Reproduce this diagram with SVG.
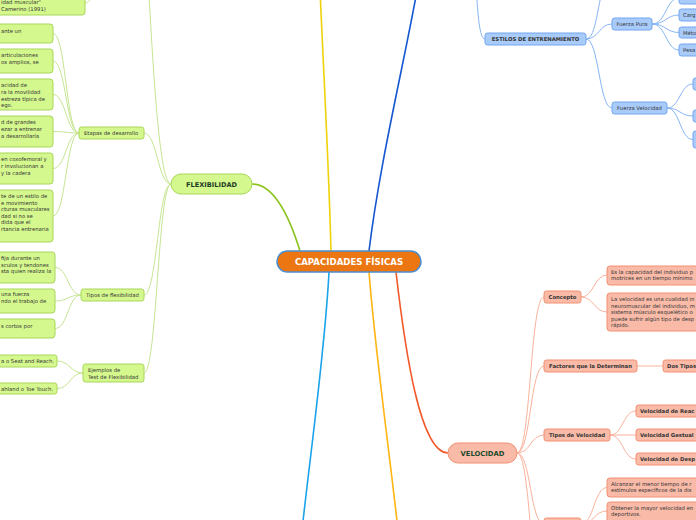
<svg xmlns="http://www.w3.org/2000/svg" width="696" height="520" viewBox="0 0 696 520">
<style>
.t{font-family:"DejaVu Sans","Liberation Sans",sans-serif;font-size:5.3px;fill:#333}
.b{font-weight:bold}
.ng{fill:#d5f88e;stroke:#a8d65a;stroke-width:1}
.nb{fill:#a9cbfa;stroke:#72a6ef;stroke-width:1}
.nr{fill:#f9bba8;stroke:#f29072;stroke-width:1}
.cg{fill:none;stroke:#c6e592;stroke-width:1}
.cb{fill:none;stroke:#86b5f3;stroke-width:1}
.cr{fill:none;stroke:#f9b29c;stroke-width:1}
</style>
<rect width="696" height="520" fill="#fff"/>
<g id="connectors">
<path d="M331,251 C329,170 324,80 320,-10" fill="none" stroke="#f0d20a" stroke-width="1.6"/>
<path d="M369,251 C380,160 405,60 418,-15" fill="none" stroke="#1656d0" stroke-width="1.6"/>
<path d="M329,272 C325,350 312,440 302,530" fill="none" stroke="#1aa3ea" stroke-width="1.6"/>
<path d="M369,272 C375,350 388,440 398,530" fill="none" stroke="#ffb411" stroke-width="1.6"/>
<path d="M396,272 C405,350 420,453 448,453" fill="none" stroke="#f2592a" stroke-width="1.6"/>
<path d="M300,251 C288,212 272,184 252,184" fill="none" stroke="#8cc31d" stroke-width="1.6"/>
<path class="cg" d="M171,184 C158,184 152,40 148,-20"/>
<path class="cg" d="M171,184 C158,184 157,133 144,133"/>
<path class="cg" d="M171,184 C158,184 157,295 144,295"/>
<path class="cg" d="M171,184 C158,184 157,373 144,373"/>
<path class="cg" d="M85,3 C91,3 92,-6 98,-10"/>
<path class="cg" d="M79,133 C66,133 66,33.5 53,33.5"/>
<path class="cg" d="M79,133 C66,133 66,61 53,61"/>
<path class="cg" d="M79,133 C66,133 66,94.5 53,94.5"/>
<path class="cg" d="M79,133 C66,133 66,131.5 53,131.5"/>
<path class="cg" d="M79,133 C66,133 66,168.5 53,168.5"/>
<path class="cg" d="M79,133 C66,133 66,216 53,216"/>
<path class="cg" d="M81,295 C68,295 68,267.5 55,267.5"/>
<path class="cg" d="M81,295 C68,295 68,301 55,301"/>
<path class="cg" d="M81,295 C68,295 68,328.5 55,328.5"/>
<path class="cg" d="M83,373 C70,373 70,361 57,361"/>
<path class="cg" d="M83,373 C70,373 70,388.5 57,388.5"/>
<path class="cb" d="M470,-60 C478,-60 474,39 485,39"/>
<path class="cb" d="M586,39 C597,39 597,0 606,-20"/>
<path class="cb" d="M586,39 C599,39 599,24 612,24"/>
<path class="cb" d="M586,39 C599,39 599,108 612,108"/>
<path class="cb" d="M652,24 C666,24 666,-2 679,-2"/>
<path class="cb" d="M652,24 C666,24 666,15 679,15"/>
<path class="cb" d="M652,24 C666,24 666,32.5 679,32.5"/>
<path class="cb" d="M652,24 C666,24 666,50 679,50"/>
<path class="cb" d="M667,108 C680,108 680,84 693,84"/>
<path class="cb" d="M667,108 C680,108 680,116 693,116"/>
<path class="cb" d="M667,108 C680,108 680,139.5 693,139.5"/>
<path class="cr" d="M517,453 C531,453 530,297 544,297"/>
<path class="cr" d="M517,453 C531,453 530,366 544,366"/>
<path class="cr" d="M517,453 C531,453 530,435 544,435"/>
<path class="cr" d="M517,453 C531,453 530,524 544,524"/>
<path class="cr" d="M517,453 C531,453 530,600 544,600"/>
<path class="cr" d="M581,297 C594,297 594,275 607,275"/>
<path class="cr" d="M581,297 C594,297 594,312 607,312"/>
<path class="cr" d="M637,366 L663,366"/>
<path class="cr" d="M610,435 C623,435 623,411 636,411"/>
<path class="cr" d="M610,435 L636,435"/>
<path class="cr" d="M610,435 C623,435 623,459 636,459"/>
<path class="cr" d="M581,524 C594,524 594,487.5 607,487.5"/>
<path class="cr" d="M581,524 C594,524 594,511 607,511"/>
</g>
<g id="center">
<rect x="277" y="251" width="144" height="21" rx="10.5" fill="#ec7611" stroke="#4b8fcf" stroke-width="1.5"/>
<text x="349" y="264.8" text-anchor="middle" font-family="DejaVu Sans, sans-serif" font-weight="bold" font-size="8.6" fill="#fff">CAPACIDADES FÍSICAS</text>
</g>
<g id="flexibilidad">
<rect class="ng" x="171" y="174" width="81" height="20" rx="10" stroke-width="1.2"/>
<text x="211.5" y="186.5" text-anchor="middle" font-family="DejaVu Sans, sans-serif" font-weight="bold" font-size="6.6" fill="#1c3a22">FLEXIBILIDAD</text>
</g>
<g id="flex-top">
<rect class="ng" x="-10" y="-10" width="95" height="25" rx="3"/>
<text class="t" x="1" y="4">idad muscular"</text>
<text class="t" x="1" y="11">Camerino (1991)</text>
</g>
<g id="etapas">
<rect class="ng" x="79" y="127" width="65" height="12" rx="2.5"/>
<text class="t" x="84" y="135">Etapas de desarrollo</text>
</g>
<g id="et1"><rect class="ng" x="-10" y="24" width="63" height="19" rx="3"/><text class="t" x="1" y="33">ante un</text></g>
<g id="et2"><rect class="ng" x="-10" y="49" width="63" height="24" rx="3"/><text class="t" x="1" y="57">articulaciones</text><text class="t" x="1" y="64">os amplios, se</text></g>
<g id="et3"><rect class="ng" x="-10" y="79" width="63" height="31" rx="3"/><text class="t" x="1" y="87">acidad de</text><text class="t" x="1" y="94">ra la movilidad</text><text class="t" x="1" y="101">estreza típica de</text><text class="t" x="1" y="107">ego.</text></g>
<g id="et4"><rect class="ng" x="-10" y="116" width="63" height="31" rx="3"/><text class="t" x="1" y="124">d de grandes</text><text class="t" x="1" y="131">ezar a entrenar</text><text class="t" x="1" y="137.5">a desarrollaría</text></g>
<g id="et5"><rect class="ng" x="-10" y="153" width="63" height="31" rx="3"/><text class="t" x="1" y="161">en coxofemoral y</text><text class="t" x="1" y="168">r involucionan a</text><text class="t" x="1" y="174.5">y la cadera</text></g>
<g id="et6"><rect class="ng" x="-10" y="190" width="63" height="52" rx="3"/><text class="t" x="1" y="198">te de un estilo de</text><text class="t" x="1" y="204.5">e movimiento</text><text class="t" x="1" y="211">cturas musculares</text><text class="t" x="1" y="217.5">dad si no se</text><text class="t" x="1" y="224">dida que el</text><text class="t" x="1" y="230.5">rtancia entrenaria</text></g>
<g id="tipos-flex">
<rect class="ng" x="81" y="289" width="63" height="12" rx="2.5"/>
<text class="t" x="86" y="297">Tipos de flexibilidad</text>
</g>
<g id="tf1"><rect class="ng" x="-10" y="252" width="65" height="31" rx="3"/><text class="t" x="1" y="260">fija durante un</text><text class="t" x="1" y="266.5">sculos y tendones</text><text class="t" x="1" y="273">sta quien realiza la</text></g>
<g id="tf2"><rect class="ng" x="-10" y="289" width="65" height="24" rx="3"/><text class="t" x="1" y="296">una fuerza</text><text class="t" x="1" y="303">ndo el trabajo de</text></g>
<g id="tf3"><rect class="ng" x="-10" y="319" width="65" height="19" rx="3"/><text class="t" x="1" y="328">s cortos por</text></g>
<g id="ejemplos">
<rect class="ng" x="83" y="364" width="61" height="18" rx="2.5"/>
<text class="t" x="88" y="371.5">Ejemplos de</text>
<text class="t" x="88" y="378.5">Test de Flexibilidad</text>
</g>
<g id="ej1"><rect class="ng" x="-10" y="355" width="67" height="12" rx="2.5"/><text class="t" x="1" y="363">a o Seat and Reach.</text></g>
<g id="ej2"><rect class="ng" x="-10" y="383" width="67" height="11" rx="2.5"/><text class="t" x="1" y="390.5">ahland o Toe Touch.</text></g>
<g id="estilos">
<rect class="nb" x="485" y="33" width="101" height="12" rx="2.5"/>
<text class="t b" x="535.5" y="41" text-anchor="middle" fill="#1a1a2a">ESTILOS DE ENTRENAMIENTO</text>
</g>
<g id="fuerza-pura"><rect class="nb" x="612" y="18" width="40" height="12" rx="2.5"/><text class="t" x="632" y="26" text-anchor="middle">Fuerza Pura</text></g>
<g id="fuerza-velocidad"><rect class="nb" x="612" y="102" width="55" height="12" rx="2.5"/><text class="t" x="639.5" y="110" text-anchor="middle">Fuerza Velocidad</text></g>
<g id="fp1"><rect class="nb" x="679" y="-8" width="30" height="12" rx="2.5"/></g>
<g id="fp2"><rect class="nb" x="679" y="9" width="30" height="12" rx="2.5"/><text class="t" x="683" y="17">Carg</text></g>
<g id="fp3"><rect class="nb" x="679" y="27" width="30" height="11" rx="2.5"/><text class="t" x="683" y="34.5">Méto</text></g>
<g id="fp4"><rect class="nb" x="679" y="44" width="30" height="12" rx="2.5"/><text class="t" x="683" y="52">Pesa</text></g>
<g id="fv1"><rect class="nb" x="693" y="78" width="20" height="12" rx="2.5"/></g>
<g id="fv2"><rect class="nb" x="693" y="110" width="20" height="12" rx="2.5"/></g>
<g id="fv3"><rect class="nb" x="693" y="131" width="20" height="17" rx="2.5"/></g>
<g id="velocidad">
<rect class="nr" x="448" y="443" width="69" height="20" rx="10" stroke-width="1.2"/>
<text x="482.5" y="455.5" text-anchor="middle" font-family="DejaVu Sans, sans-serif" font-weight="bold" font-size="6.8" fill="#1d4a2c">VELOCIDAD</text>
</g>
<g id="concepto"><rect class="nr" x="544" y="291" width="37" height="12" rx="2.5"/><text class="t b" x="562.5" y="299" text-anchor="middle" fill="#222">Concepto</text></g>
<g id="c1"><rect class="nr" x="607" y="266" width="100" height="19" rx="3"/><text class="t" x="611" y="273.5">Es la capacidad del individuo p</text><text class="t" x="611" y="280">motrices en un tiempo mínimo</text></g>
<g id="c2"><rect class="nr" x="607" y="293" width="100" height="38" rx="3"/><text class="t" x="611" y="301">La velocidad es una cualidad in</text><text class="t" x="611" y="307.5">neuromuscular del individuo, m</text><text class="t" x="611" y="314">sistema músculo esquelético o</text><text class="t" x="611" y="320.5">puede sufrir algún tipo de desp</text><text class="t" x="611" y="327">rápido.</text></g>
<g id="factores"><rect class="nr" x="544" y="360" width="93" height="12" rx="2.5"/><text class="t b" x="590.5" y="368" text-anchor="middle" fill="#222">Factores que la Determinan</text></g>
<g id="dos-tipos"><rect class="nr" x="663" y="360" width="45" height="12" rx="2.5"/><text class="t b" x="667" y="368" fill="#222">Dos Tipos</text></g>
<g id="tipos-vel"><rect class="nr" x="544" y="429" width="66" height="12" rx="2.5"/><text class="t b" x="577" y="437" text-anchor="middle" fill="#222">Tipos de Velocidad</text></g>
<g id="tv1"><rect class="nr" x="636" y="405" width="70" height="12" rx="2.5"/><text class="t b" x="640" y="413" fill="#222">Velocidad de Reac</text></g>
<g id="tv2"><rect class="nr" x="636" y="429" width="70" height="12" rx="2.5"/><text class="t b" x="640" y="437" fill="#222">Velocidad Gestual</text></g>
<g id="tv3"><rect class="nr" x="636" y="453" width="70" height="12" rx="2.5"/><text class="t b" x="640" y="461" fill="#222">Velocidad de Desp</text></g>
<g id="objetivos"><rect class="nr" x="544" y="518" width="37" height="12" rx="2.5"/></g>
<g id="o1"><rect class="nr" x="607" y="478" width="100" height="19" rx="3"/><text class="t" x="611" y="485.5">Alcanzar el menor tiempo de r</text><text class="t" x="611" y="492">estímulos específicos de la dis</text></g>
<g id="o2"><rect class="nr" x="607" y="502" width="100" height="25" rx="3"/><text class="t" x="611" y="509.5">Obtener la mayor velocidad en</text><text class="t" x="611" y="516">deportivos.</text></g>
</svg>
